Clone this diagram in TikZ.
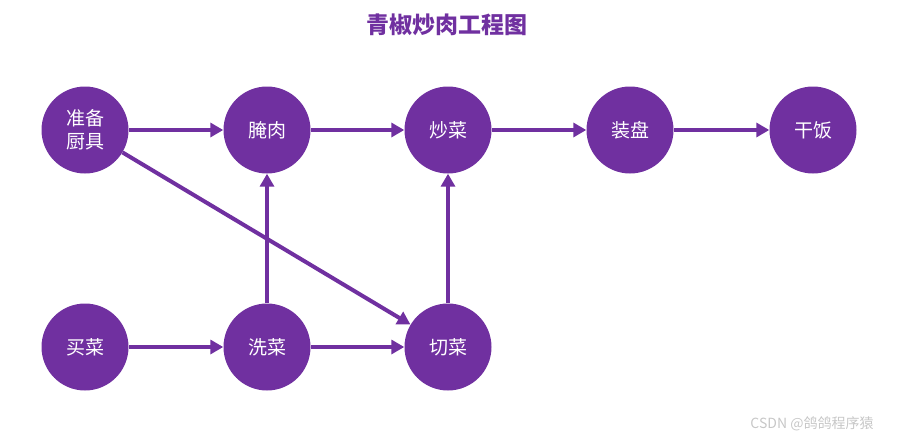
\documentclass[tikz,border=0pt]{standalone}
\usepackage{fontspec}
\newfontfamily\cjk{Noto Sans CJK SC}
\usetikzlibrary{arrows.meta}
\definecolor{viola}{HTML}{7030A0}
\tikzset{
  passo/.style={circle, fill=viola, minimum size=87pt, inner sep=0pt,
    text=white, font=\cjk\fontsize{19}{23}\selectfont, align=center},
  freccia/.style={draw=viola, line width=4pt,
    -{Triangle[length=13pt,width=14pt]}}
}
\begin{document}
\begin{tikzpicture}[x=1pt,y=-1pt]
        \useasboundingbox (0,0) rectangle (900,439);
        % Titolo
        \node (titolo) at (447,25) {\cjk\bfseries\fontsize{23}{27}\selectfont\color{viola}青椒炒肉工程图};

        % Riga superiore
        \node[passo] (cucina) at (85,130) {准备\\厨具};
        \node[passo] (marina) at (267,130) {腌肉};
        \node[passo] (frigge) at (448,130) {炒菜};
        \node[passo] (piatto) at (630,130) {装盘};
        \node[passo] (mangia) at (813,130) {干饭};

        % Riga inferiore
        \node[passo] (compra) at (85,347) {买菜};
        \node[passo] (lava) at (267,347) {洗菜};
        \node[passo] (taglia) at (448,347) {切菜};

        % Frecce
        \draw[freccia] (cucina) -- (marina);
        \draw[freccia] (marina) -- (frigge);
        \draw[freccia] (frigge) -- (piatto);
        \draw[freccia] (piatto) -- (mangia);
        \draw[freccia] (compra) -- (lava);
        \draw[freccia] (lava) -- (taglia);
        \draw[freccia] (lava) -- (marina);
        \draw[freccia] (taglia) -- (frigge);
        \draw[freccia] (cucina) -- (taglia);

        % Firma
        \node[text=black!22, font=\cjk\fontsize{14}{16}\selectfont] (firma) at (812,424) {CSDN @鸽鸽程序猿};
    \end{tikzpicture}
\end{document}
